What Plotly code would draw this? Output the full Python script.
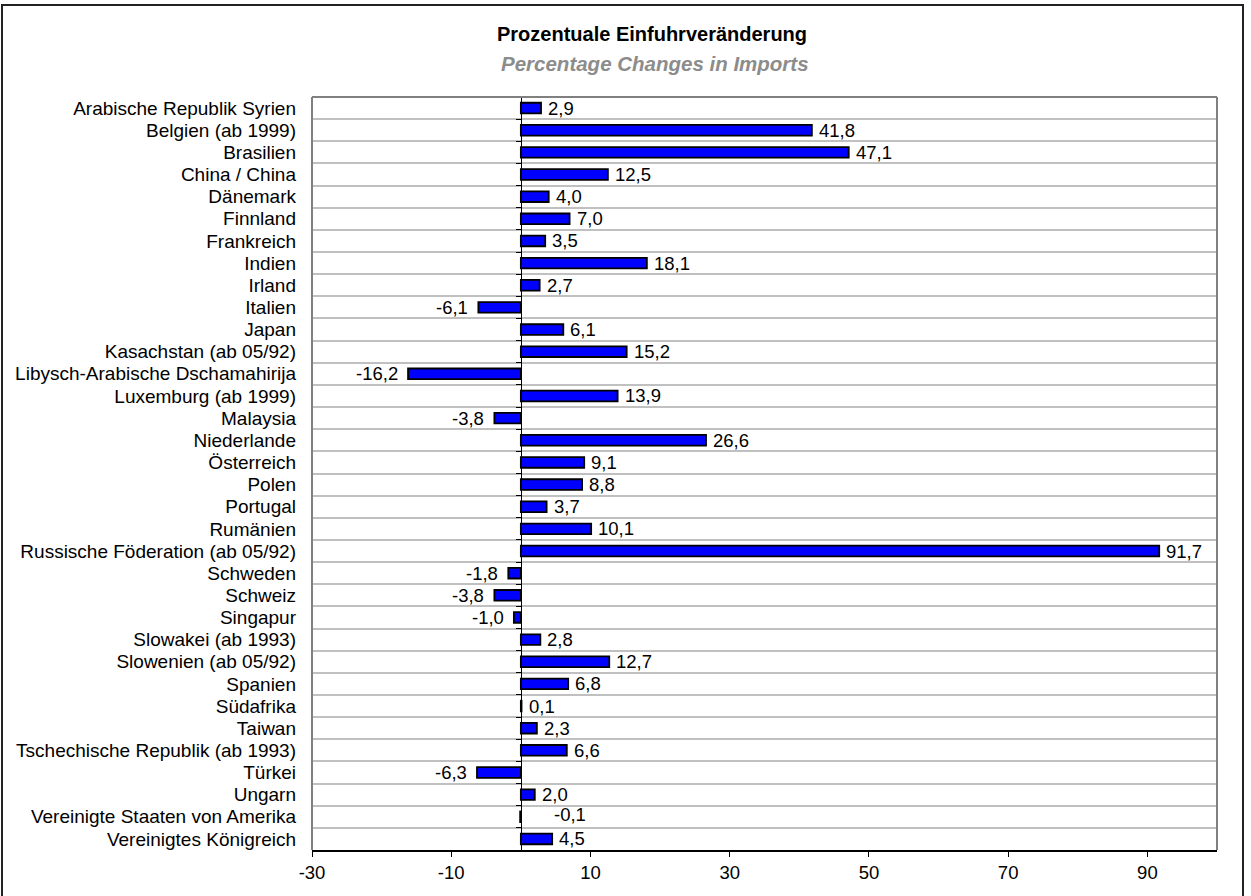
import plotly.graph_objects as go

categories = [
    "Arabische Republik Syrien", "Belgien (ab 1999)", "Brasilien", "China / China",
    "Dänemark", "Finnland", "Frankreich", "Indien", "Irland", "Italien", "Japan",
    "Kasachstan (ab 05/92)", "Libysch-Arabische Dschamahirija", "Luxemburg (ab 1999)",
    "Malaysia", "Niederlande", "Österreich", "Polen", "Portugal", "Rumänien",
    "Russische Föderation (ab 05/92)", "Schweden", "Schweiz", "Singapur",
    "Slowakei (ab 1993)", "Slowenien (ab 05/92)", "Spanien", "Südafrika", "Taiwan",
    "Tschechische Republik (ab 1993)", "Türkei", "Ungarn",
    "Vereinigte Staaten von Amerika", "Vereinigtes Königreich",
]
values = [
    2.9, 41.8, 47.1, 12.5, 4.0, 7.0, 3.5, 18.1, 2.7, -6.1, 6.1, 15.2, -16.2, 13.9,
    -3.8, 26.6, 9.1, 8.8, 3.7, 10.1, 91.7, -1.8, -3.8, -1.0, 2.8, 12.7, 6.8, 0.1,
    2.3, 6.6, -6.3, 2.0, -0.1, 4.5,
]
x_ticks = [-30, -10, 10, 30, 50, 70, 90]
title_de = "Prozentuale Einfuhrveränderung"
title_en = "Percentage Changes in Imports"

FONT = "Liberation Sans, Arial, sans-serif"
FS_Y = 19
FS = 18.5
W, H = 1251, 896
ML, MR, MT, MB = 312, 34, 97, 46
XMIN, XMAX = -30, 100
n = len(categories)
yrange = [n - 0.5, -0.5]

fig = go.Figure()
fig.add_trace(go.Bar(
    x=values, y=categories, orientation="h",
    marker=dict(color="#0000FF", line=dict(color="black", width=1.8)),
    hoverinfo="x+y", showlegend=False,
))
# invisible helper trace for the zero-line axis with its boundary ticks
fig.add_trace(go.Scatter(
    x=[0] * n, y=categories, yaxis="y2", mode="markers",
    marker=dict(opacity=0), hoverinfo="skip", showlegend=False,
))

def fmt(v):
    return f"{v:.1f}".replace(".", ",")

annotations = []
for c, v in zip(categories, values):
    if v >= 0:
        annotations.append(dict(x=v, y=c, text=fmt(v), xanchor="left", xshift=5,
                                showarrow=False, font=dict(family=FONT, size=FS, color="black")))
    elif v > -0.5:
        # tiny negative value: label displaced to the right of the zero line
        annotations.append(dict(x=0, y=c, text=fmt(v), xanchor="left", xshift=31, yshift=2,
                                showarrow=False, font=dict(family=FONT, size=FS, color="black")))
    else:
        annotations.append(dict(x=v, y=c, text=fmt(v), xanchor="right", xshift=-8,
                                showarrow=False, font=dict(family=FONT, size=FS, color="black")))

pw = W - ML - MR
ph = H - MT - MB
def px_x(p):
    return (p - ML) / pw
def px_y(p):
    return (H - MB - p) / ph

annotations.append(dict(xref="paper", yref="paper", x=px_x(652), y=px_y(34), text=f"<b>{title_de}</b>",
                        showarrow=False, xanchor="center", yanchor="middle",
                        font=dict(family=FONT, size=20, color="black")))
annotations.append(dict(xref="paper", yref="paper", x=px_x(655), y=px_y(63), text=f"<b><i>{title_en}</i></b>",
                        showarrow=False, xanchor="center", yanchor="middle",
                        font=dict(family=FONT, size=20.5, color="#8c8c8c")))

shapes = [
    # outer chart frame
    dict(type="rect", xref="paper", yref="paper", x0=px_x(2), x1=px_x(1243), y0=px_y(905), y1=px_y(5),
         line=dict(color="#222222", width=2), layer="below"),
    # plot area border (left, top, right)
    dict(type="line", xref="paper", yref="paper", x0=0, x1=0, y0=0, y1=1, line=dict(color="#808080", width=2)),
    dict(type="line", xref="paper", yref="paper", x0=0, x1=1, y0=1, y1=1, line=dict(color="#808080", width=2)),
    dict(type="line", xref="paper", yref="paper", x0=1, x1=1, y0=0, y1=1, line=dict(color="#808080", width=2)),
]

fig.update_layout(
    width=W, height=H,
    margin=dict(l=ML, r=MR, t=MT, b=MB),
    paper_bgcolor="white", plot_bgcolor="white",
    bargap=0.52,
    font=dict(family=FONT, size=FS, color="black"),
    xaxis=dict(
        range=[XMIN, XMAX], tickmode="array", tickvals=x_ticks, ticktext=[str(t) for t in x_ticks],
        showgrid=False, zeroline=False, showline=True, linecolor="black", linewidth=1.5,
        ticks="outside", ticklen=5, tickcolor="black", tickwidth=1, automargin=False,
        tickfont=dict(family=FONT, size=FS, color="black"),
    ),
    yaxis=dict(
        type="category", categoryorder="array", categoryarray=categories, range=yrange,
        tickmode="array", tickvals=categories, ticktext=categories,
        showgrid=True, gridcolor="#c0c0c0", gridwidth=2, tickson="boundaries",
        ticks="", showline=False, zeroline=False, ticklabelstandoff=15, automargin=False,
        tickfont=dict(family=FONT, size=FS_Y, color="black"),
    ),
    yaxis2=dict(
        type="category", categoryorder="array", categoryarray=categories, range=yrange,
        tickmode="array", tickvals=categories,
        overlaying="y", anchor="free", position=(0 - XMIN) / (XMAX - XMIN), side="left",
        showgrid=False, showticklabels=False, tickson="boundaries",
        ticks="outside", ticklen=5, tickcolor="black", tickwidth=1,
        showline=True, linecolor="black", linewidth=1, zeroline=False,
    ),
    annotations=annotations,
    shapes=shapes,
)

fig.write_html("out.html", config={"displayModeBar": False},
               post_script="document.body.style.margin='0';")
